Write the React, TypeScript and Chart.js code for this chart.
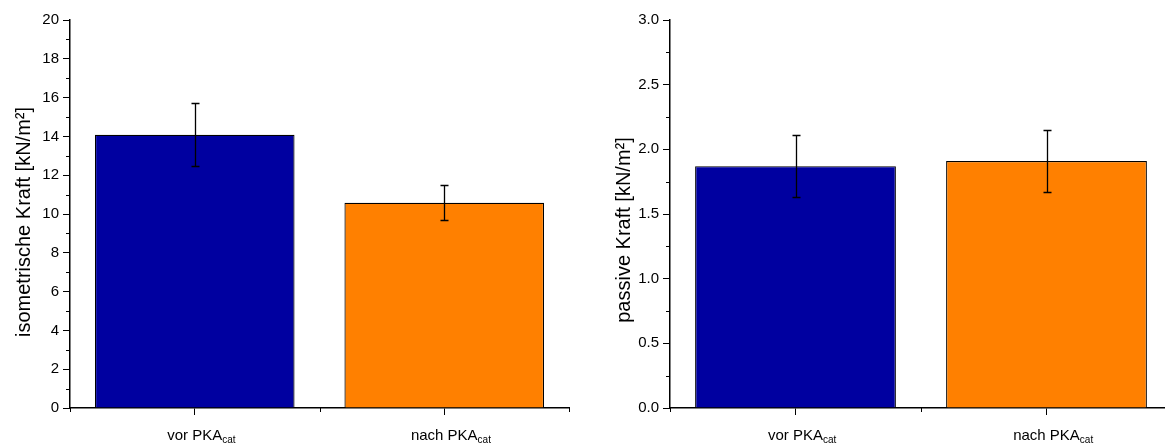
import React, { useEffect, useRef } from 'react';
import { Chart, registerables } from 'chart.js';

Chart.register(...registerables);

const categories = ['vor PKA', 'nach PKA'];
const categorySubscripts = ['cat', 'cat'];
const isoForce = [14.08, 10.58];
const isoError = [1.62, 0.9];
const passiveForce = [1.87, 1.91];
const passiveError = [0.24, 0.24];
const barColors = ['#0000A0', '#FF8000'];
const isoTicks = [0, 2, 4, 6, 8, 10, 12, 14, 16, 18, 20];
const isoMinorTicks = [1, 3, 5, 7, 9, 11, 13, 15, 17, 19];
const passiveTicks = [0, 0.5, 1.0, 1.5, 2.0, 2.5, 3.0];
const passiveMinorTicks = [0.25, 0.75, 1.25, 1.75, 2.25, 2.75];
const categoryMinorTicks = [-0.5, 0.5, 1.5];

const FONT = "'Liberation Sans', Arial, Helvetica, sans-serif";

function extrasPlugin(errors: number[], minorY: number[], title: string, titleY: number) {
  return {
    id: 'extras',
    afterDatasetsDraw(chart: any) {
      const ctx = chart.ctx;
      const meta = chart.getDatasetMeta(0);
      const yScale = chart.scales.y;
      const data = chart.data.datasets[0].data as number[];
      ctx.save();
      ctx.strokeStyle = '#000';
      ctx.lineWidth = 1.3;
      meta.data.forEach((bar: any, i: number) => {
        const x = Math.round(bar.x) + 0.5;
        const top = Math.round(yScale.getPixelForValue(data[i] + errors[i])) + 0.5;
        const bot = Math.round(yScale.getPixelForValue(data[i] - errors[i])) + 0.5;
        ctx.beginPath();
        ctx.moveTo(x, top);
        ctx.lineTo(x, bot);
        ctx.moveTo(x - 4, top);
        ctx.lineTo(x + 4, top);
        ctx.moveTo(x - 4, bot);
        ctx.lineTo(x + 4, bot);
        ctx.stroke();
      });
      ctx.restore();
    },
    afterDraw(chart: any) {
      const ctx = chart.ctx;
      const { left, bottom } = chart.chartArea;
      const yScale = chart.scales.y;
      const xScale = chart.scales.x;
      ctx.save();
      ctx.strokeStyle = '#000';
      ctx.lineWidth = 1;
      ctx.beginPath();
      minorY.forEach((v) => {
        const py = Math.round(yScale.getPixelForValue(v)) + 0.5;
        ctx.moveTo(left - 4, py);
        ctx.lineTo(left, py);
      });
      categoryMinorTicks.forEach((v) => {
        const px = Math.round(xScale.getPixelForValue(v)) + 0.5;
        ctx.moveTo(px, bottom);
        ctx.lineTo(px, bottom + 4);
      });
      ctx.stroke();

      ctx.fillStyle = '#000';
      ctx.textBaseline = 'alphabetic';
      ctx.textAlign = 'left';
      categories.forEach((label, i) => {
        const cx = xScale.getPixelForTick(i);
        ctx.font = `15px ${FONT}`;
        const w = ctx.measureText(label).width;
        ctx.fillText(label, cx - w / 2, 440);
        ctx.font = `10px ${FONT}`;
        ctx.fillText(categorySubscripts[i], cx + w / 2, 443);
      });

      ctx.translate(24, titleY);
      ctx.rotate(-Math.PI / 2);
      ctx.textAlign = 'center';
      ctx.textBaseline = 'middle';
      ctx.font = `20px ${FONT}`;
      ctx.fillText(title, 0, 0);
      ctx.restore();
    },
  };
}

function makeConfig(
  values: number[],
  errors: number[],
  ticks: number[],
  minorY: number[],
  title: string,
  titleY: number,
  decimals: number,
  rightPad: number
): any {
  return {
    type: 'bar',
    data: {
      labels: categories,
      datasets: [
        {
          data: values,
          backgroundColor: barColors,
          borderColor: '#000',
          borderWidth: 1.2,
          barPercentage: 1,
          categoryPercentage: 0.8,
        },
      ],
    },
    options: {
      responsive: false,
      animation: false,
      layout: { padding: { left: 0, top: 20, right: rightPad, bottom: 0 } },
      plugins: { legend: { display: false }, tooltip: { enabled: false } },
      scales: {
        x: {
          type: 'category',
          offset: true,
          grid: {
            offset: false,
            drawOnChartArea: false,
            drawTicks: true,
            tickLength: 7,
            tickColor: '#000',
            tickWidth: 1,
          },
          border: { display: true, color: '#000', width: 1.5 },
          ticks: { display: false },
          afterFit: (scale: any) => {
            scale.height = 36;
          },
        },
        y: {
          type: 'linear',
          min: ticks[0],
          max: ticks[ticks.length - 1],
          afterBuildTicks: (scale: any) => {
            scale.ticks = ticks.map((v) => ({ value: v }));
          },
          grid: {
            drawOnChartArea: false,
            drawTicks: true,
            tickLength: 7,
            tickColor: '#000',
            tickWidth: 1,
          },
          border: { display: true, color: '#000', width: 1.5 },
          ticks: {
            color: '#000',
            font: { family: FONT, size: 15 },
            padding: 4,
            callback: (v: any) => Number(v).toFixed(decimals),
          },
          title: { display: false },
          afterFit: (scale: any) => {
            scale.width = 70;
          },
        },
      },
    },
    plugins: [extrasPlugin(errors, minorY, title, titleY)],
  };
}

function BarPanel(props: {
  values: number[];
  errors: number[];
  ticks: number[];
  minorY: number[];
  title: string;
  titleY: number;
  decimals: number;
  rightPad: number;
  left: number;
}) {
  const ref = useRef<HTMLCanvasElement | null>(null);
  useEffect(() => {
    if (!ref.current) return;
    const chart = new Chart(
      ref.current,
      makeConfig(
        props.values,
        props.errors,
        props.ticks,
        props.minorY,
        props.title,
        props.titleY,
        props.decimals,
        props.rightPad
      )
    );
    return () => chart.destroy();
  }, []);
  return (
    <canvas
      ref={ref}
      width={600}
      height={444}
      style={{ position: 'absolute', left: props.left, top: 0, width: 600, height: 444, display: 'block' }}
    />
  );
}

export default function App() {
  return (
    <div
      style={{
        position: 'absolute',
        left: 0,
        top: 0,
        width: 1165,
        height: 444,
        overflow: 'hidden',
        background: '#fff',
      }}
    >
      <BarPanel
        values={isoForce}
        errors={isoError}
        ticks={isoTicks}
        minorY={isoMinorTicks}
        title="isometrische Kraft [kN/m²]"
        titleY={222}
        decimals={0}
        rightPad={31}
        left={0}
      />
      <BarPanel
        values={passiveForce}
        errors={passiveError}
        ticks={passiveTicks}
        minorY={passiveMinorTicks}
        title="passive Kraft [kN/m²]"
        titleY={230}
        decimals={1}
        rightPad={28}
        left={600}
      />
    </div>
  );
}
